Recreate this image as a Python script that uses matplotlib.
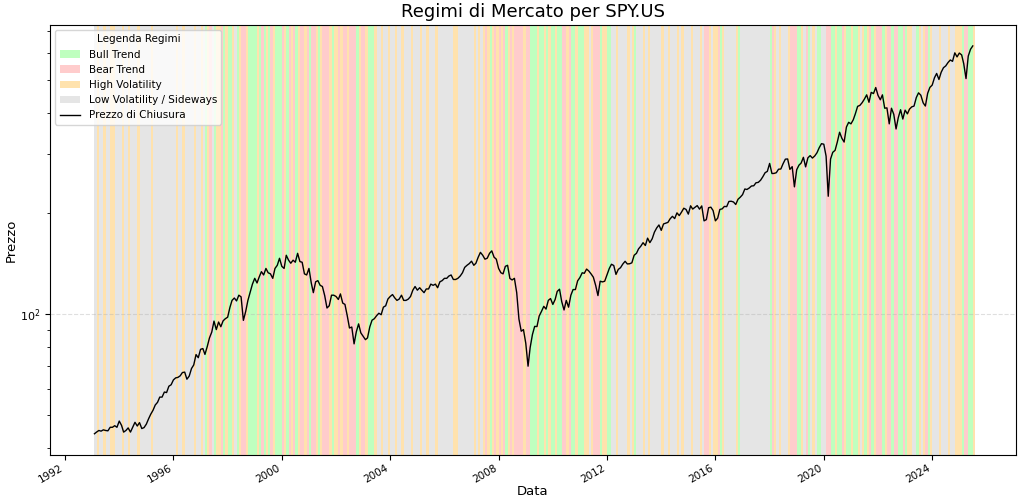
import matplotlib
matplotlib.use("Agg")
import matplotlib.pyplot as plt
import matplotlib.dates as mdates
from matplotlib.patches import Patch
from matplotlib.lines import Line2D
import pandas as pd
import numpy as np

# Monthly closes (approx), Feb 1993 .. Jul 2025
prices = [
 44, 44.5, 45, 44.8, 45.2, 45, 44.9, 46, 46, 46.5, 46,
 48, 46.6, 44.5, 45, 45.8, 44.5, 46, 47.6, 46.4, 47.5, 45.6, 45.9,
 47, 48.8, 50.3, 51.7, 53.6, 54.6, 56.6, 56.6, 58.6, 58.4, 61, 61.6,
 63.7, 64.6, 64.8, 65.5, 67, 67.2, 64, 65.4, 68.9, 70.6, 75.8, 74.2,
 78.6, 79, 75.9, 80.1, 85, 88.5, 95.4, 90, 94.8, 91.8, 95.6, 97,
 98, 104.9, 110, 111.8, 109.6, 114, 112.7, 95.9, 101.9, 110, 116.5, 123,
 128, 124, 129, 134, 131, 137, 133, 132, 128, 137, 140, 146.9,
 139, 137, 150, 145, 142, 145, 143, 152, 143.6, 143, 132, 131,
 137, 124, 116, 125, 126, 122, 121, 113.7, 104.4, 106, 114, 114,
 113, 110.7, 115, 108, 107, 99, 91, 91.6, 81.6, 88.6, 93.6, 88,
 86, 84, 85, 91.7, 96, 97, 99, 100.7, 99.7, 105, 106, 111,
 113, 114.5, 112, 110, 111, 114, 110, 110, 111, 113, 118, 121,
 118, 120, 118, 116, 119, 119, 123, 122, 123, 120, 125, 126,
 128, 128, 130, 131, 127, 127, 128, 130, 133, 138, 140, 141.6,
 144, 140, 142, 148, 153, 150, 146, 147, 152, 154.6, 148, 146,
 137, 133, 132, 139, 140, 127.9, 126.6, 128, 116, 96.8, 89, 90,
 82, 70, 79.5, 87, 92, 91.9, 98.8, 102, 105.6, 103.6, 110, 111.4,
 107, 110.7, 117, 118.8, 109, 103, 110, 105, 114, 118.5, 118.5, 125.8,
 128.7, 133, 132.5, 136.4, 134.6, 131.9, 129, 122, 113.7, 125.5, 124.9, 125.5,
 131, 137, 141, 139.8, 131.5, 136.1, 137.7, 141.2, 143.9, 141.3, 141.5, 142.4,
 150, 152, 156.7, 159.7, 163.5, 160.4, 168.7, 163.6, 168, 175.8, 181, 184.7,
 178, 186, 187, 188, 192.7, 196, 193, 200.7, 197, 201.7, 207.2, 205.5,
 199, 210.7, 206, 208.5, 211, 205.9, 210.5, 190, 191.6, 207.9, 208.7, 203.9,
 190, 193.6, 205.5, 206.3, 209.8, 209.5, 217.1, 217.4, 216.3, 212.6, 220.4, 223.5,
 227.5, 236.5, 235.7, 238.1, 241.4, 241.8, 246.8, 247.5, 251.2, 257.2, 264.5, 266.9,
 281.9, 263, 263.2, 264.5, 270.9, 271.3, 281.3, 290.3, 290.7, 270.6, 275.7, 240,
 270, 278.7, 282.5, 294, 275.3, 293, 297.4, 292.5, 296.8, 303.3, 314.3, 322.9,
 321.7, 296.3, 225, 290.5, 304.3, 308.4, 326.5, 349.3, 334.9, 326.5, 362, 373.9,
 370, 380.4, 396.3, 417.3, 420, 428, 438.5, 451.6, 429.1, 459.3, 455.6, 474.9,
 449.9, 436.6, 451.6, 412, 412.9, 370, 411.9, 395.2, 357.2, 386.2, 407.7, 382.4,
 406.5, 396.3, 409.4, 415.9, 418, 443.3, 457.8, 450.4, 427.5, 418.2, 456.4, 475.3,
 482.9, 508.1, 523.1, 501.9, 527.4, 544.2, 550.8, 563.7, 573.8, 568.6, 602.6, 586.1,
 601.8, 594.2, 559.4, 505, 589.4, 617.9, 632,
]

# Monthly regime codes: B=Bull, R=Bear, H=High Vol, L=Low Vol (Feb 1993 .. Jul 2025)
regime_years = [
 "LHLLHLLHHLL",
 "LHLLHLLLHLLL", "LLHLLLLLLLLL", "LHLLHLLLLHLL", "HLBHRLBHHRBH",
 "BBHLBHRRHBBB", "BHBRBHBRHBBB", "RHBRHRBHRRHR", "BRRHBHRRRHBH",
 "HRHRRHRRRBHR", "RHBBBHLLHLLH", "LLHLLHLLLHLL", "LHLLHLLLHLLL",
 "LLLLHHLLLLLL", "LHLHLHRHBHRH", "RHRBHRHRRRRH", "RRBBBHBBHBHB",
 "BHBBRRHRBBHB", "BBHHLHRRRBHH", "BBLLHLLLLHLH", "BLLLHLHLLLLL",
 "HLLHLLLHLHLL", "LHLLLHLRRHLH", "HRBHLLLLLHBL", "LLLLLLLLLLLL",
 "BRHLHLLLHRRR", "BBHLRBLHLBBL", "LRRBBHBBRHBB", "HBBHLHBHRBHR",
 "RRBHRRBRRBBR", "BHHLLBHLHRBH", "LLLHLLLHLLHH", "HBRRBBH",
]
regime_names = {"B": "Bull Trend", "R": "Bear Trend", "H": "High Volatility", "L": "Low Volatility / Sideways"}
regime_colors = {"B": ("lime", 0.25), "R": ("red", 0.2), "H": ("orange", 0.32), "L": ("gray", 0.2)}

codes = "".join(regime_years)
dates = pd.date_range("1993-02-01", periods=len(prices), freq="MS")
edges = pd.date_range("1993-02-01", periods=len(codes) + 1, freq="MS")

fig = plt.figure(figsize=(10.24, 4.99), dpi=100)
ax = fig.add_axes([0.049, 0.088, 0.943, 0.862])

for i, c in enumerate(codes):
    col, a = regime_colors[c]
    ax.axvspan(edges[i], edges[i + 1], color=col, alpha=a, lw=0, antialiased=False)

ax.plot(dates, prices, color="black", lw=1)
ax.set_yscale("log")
ax.set_xlim(mdates.date2num(pd.Timestamp("1991-06-15")), mdates.date2num(pd.Timestamp("2027-02-01")))
ax.set_ylim(38, 730)
ax.xaxis.set_major_locator(mdates.YearLocator(4))
ax.xaxis.set_major_formatter(mdates.DateFormatter("%Y"))
for lbl in ax.get_xticklabels():
    lbl.set_rotation(30); lbl.set_ha("right"); lbl.set_fontsize(7.5)
ax.tick_params(axis="x", pad=2)
ax.tick_params(axis="y", labelsize=8)
ax.grid(True, axis="y", ls="--", alpha=0.4)
ax.set_title("Regimi di Mercato per SPY.US", fontsize=13)
ax.set_xlabel("Data", fontsize=9.5, labelpad=0)
ax.set_ylabel("Prezzo", fontsize=9.5, labelpad=2)

handles = [Patch(facecolor=regime_colors[k][0], alpha=regime_colors[k][1], label=regime_names[k]) for k in "BRHL"]
handles.append(Line2D([0], [0], color="black", lw=1, label="Prezzo di Chiusura"))
ax.legend(handles=handles, loc="upper left", title="Legenda Regimi", fontsize=7.5, title_fontsize=7.5)

fig.savefig("out.png", dpi=100)
